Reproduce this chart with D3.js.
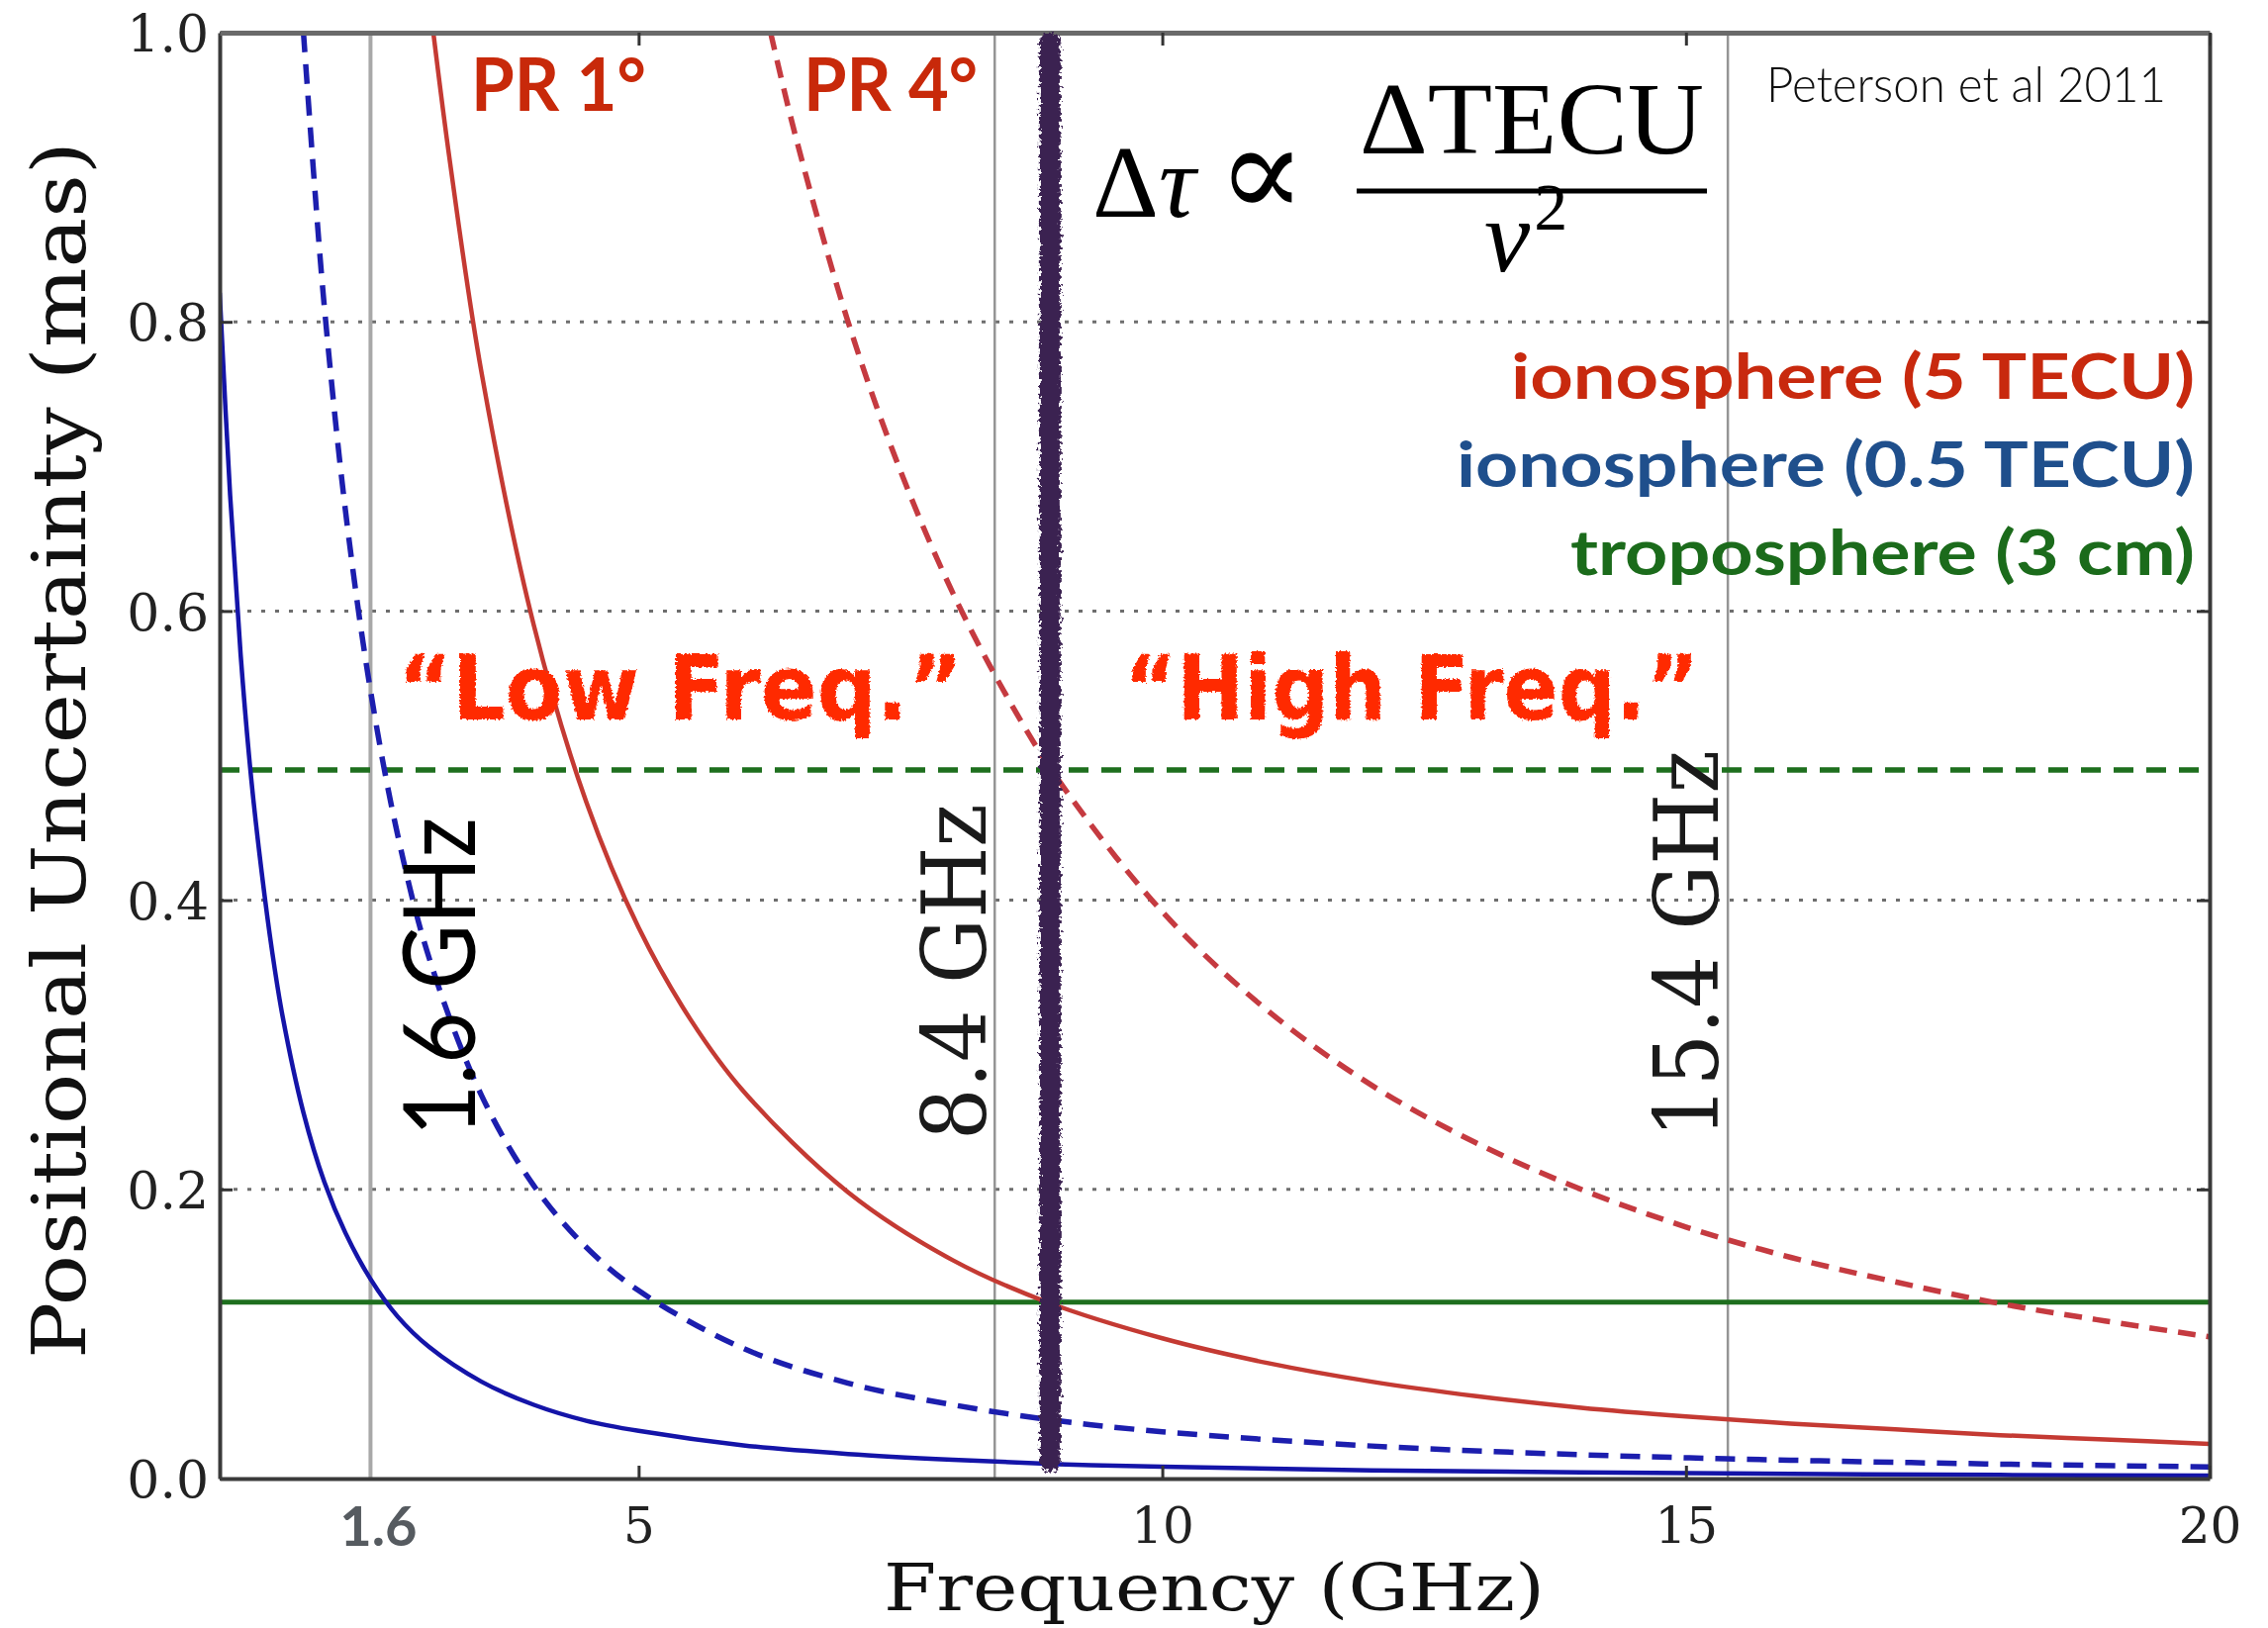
<!DOCTYPE html>
<html><head><meta charset="utf-8">
<script src="https://cdn.jsdelivr.net/npm/d3@7"></script>
<style>html,body{margin:0;padding:0;background:#fff;}svg{display:block;}</style>
</head><body>
<script>
// ---------------- data ----------------
const yTicks = [0.0, 0.2, 0.4, 0.6, 0.8, 1.0];
const xTicks = [5, 10, 15, 20];
const gridY = [0.2, 0.4, 0.6, 0.8];

// ionosphere 0.5 TECU, PR 1 deg (blue solid)
const blueSolidF = [1.0, 1.1, 1.2, 1.3, 1.4, 1.5, 1.6, 1.8, 2.0, 2.2, 2.44, 2.7, 3.0, 3.5, 4.0, 4.5, 5, 6, 7, 8, 9, 10, 12, 14, 16, 18, 20];
const blueSolidV = [0.82, 0.68, 0.57, 0.485, 0.42, 0.365, 0.32, 0.253, 0.205, 0.17, 0.138, 0.112, 0.091, 0.067, 0.051, 0.040, 0.033, 0.023, 0.017, 0.013, 0.010, 0.0082, 0.0057, 0.0042, 0.0032, 0.0025, 0.002];
// ionosphere 0.5 TECU, PR 4 deg (blue dashed)
const blueDashF = [1.8, 1.9, 2.0, 2.2, 2.44, 2.7, 3.0, 3.5, 4, 4.5, 5, 6, 7, 8, 9, 10, 12, 14, 16, 18, 20];
const blueDashV = [1.0, 0.9, 0.81, 0.67, 0.545, 0.445, 0.36, 0.265, 0.2025, 0.16, 0.13, 0.09, 0.066, 0.051, 0.040, 0.0324, 0.0225, 0.0165, 0.0127, 0.010, 0.0081];
// ionosphere 5 TECU, PR 1 deg (red solid)
const redSolidF = [3.04, 3.2, 3.5, 4.0, 4.5, 5, 5.5, 6, 7, 8, 8.9, 10, 11, 12, 13, 14, 15, 16, 17, 18, 19, 20];
const redSolidV = [1.0, 0.91, 0.765, 0.59, 0.468, 0.381, 0.317, 0.268, 0.198, 0.151, 0.122, 0.097, 0.080, 0.067, 0.057, 0.049, 0.043, 0.038, 0.034, 0.030, 0.027, 0.024];
// ionosphere 5 TECU, PR 4 deg (red dashed)
const redDashF = [6.26, 6.5, 7, 7.5, 8, 8.5, 9, 10, 11, 12, 13, 14, 15, 16, 17, 18, 19, 20];
const redDashV = [1.0, 0.928, 0.80, 0.697, 0.6125, 0.543, 0.484, 0.392, 0.324, 0.272, 0.232, 0.200, 0.174, 0.153, 0.136, 0.121, 0.109, 0.098];
// troposphere 3 cm (green) for PR 1 deg and PR 4 deg
const tropoSolid = 0.122;
const tropoDash = 0.49;
// observing-band reference lines
const bandLabels = ["1.6 GHz", "8.4 GHz", "15.4 GHz"];
const bandFreqs = [2.44, 8.4, 15.4];
// low / high frequency divider
const dividerFreq = 8.93;
const dividerRange = [0.012, 0.993];
const legendLabels = ["ionosphere (5 TECU)", "ionosphere (0.5 TECU)", "troposphere (3 cm)"];

// ---------------- layout ----------------
const W = 2292, H = 1645;
const L = 222, R = 2233, T = 33, B = 1494;
const svg = d3.select("body").append("svg").attr("width", W).attr("height", H);
svg.append("rect").attr("width", W).attr("height", H).attr("fill", "#fff");

const defs = svg.append("defs");
defs.append("clipPath").attr("id", "plot").append("rect")
  .attr("x", L).attr("y", T).attr("width", R - L).attr("height", B - T);
const rough = defs.append("filter").attr("id", "rough").attr("filterUnits", "userSpaceOnUse")
  .attr("x", 0).attr("y", 0).attr("width", W).attr("height", H);
rough.append("feTurbulence").attr("type", "fractalNoise").attr("baseFrequency", "0.3").attr("numOctaves", 2).attr("seed", 3).attr("result", "n");
rough.append("feDisplacementMap").attr("in", "SourceGraphic").attr("in2", "n").attr("scale", 10).attr("xChannelSelector", "R").attr("yChannelSelector", "G");
const rough2 = defs.append("filter").attr("id", "rough2").attr("filterUnits", "userSpaceOnUse")
  .attr("x", 0).attr("y", 0).attr("width", W).attr("height", H);
rough2.append("feTurbulence").attr("type", "fractalNoise").attr("baseFrequency", "0.5").attr("numOctaves", 2).attr("seed", 7).attr("result", "n");
rough2.append("feDisplacementMap").attr("in", "SourceGraphic").attr("in2", "n").attr("scale", 5).attr("xChannelSelector", "R").attr("yChannelSelector", "G");

const x = d3.scaleLinear().domain([1, 20]).range([L, R]);
const y = d3.scaleLinear().domain([0, 1]).range([B, T]);

const plot = svg.append("g").attr("clip-path", "url(#plot)");

// dotted grid
plot.selectAll("line.grid").data(gridY).join("line").attr("class", "grid")
  .attr("x1", L).attr("x2", R).attr("y1", d => y(d)).attr("y2", d => y(d))
  .attr("stroke", "#6e6e6e").attr("stroke-width", 3).attr("stroke-dasharray", "4,10");

// band reference lines
plot.selectAll("line.band").data(bandFreqs).join("line").attr("class", "band")
  .attr("x1", d => x(d)).attr("x2", d => x(d)).attr("y1", T).attr("y2", B)
  .attr("stroke", (d, i) => i === 0 ? "#a8a8a8" : "#959595")
  .attr("stroke-width", (d, i) => i === 0 ? 4 : 2.5);

// troposphere lines
plot.append("line").attr("x1", L).attr("x2", R).attr("y1", y(tropoSolid)).attr("y2", y(tropoSolid))
  .attr("stroke", "#1e6f1e").attr("stroke-width", 5);
plot.append("line").attr("x1", L).attr("x2", R).attr("y1", y(tropoDash)).attr("y2", y(tropoDash))
  .attr("stroke", "#1e6f1e").attr("stroke-width", 5.5).attr("stroke-dasharray", "20,13");

const line = d3.line().x(d => x(d[0])).y(d => y(d[1])).curve(d3.curveCatmullRom.alpha(0.5));
const series = [
  {f: blueSolidF, v: blueSolidV, c: "#1414a8", dash: null, w: 4.5},
  {f: blueDashF, v: blueDashV, c: "#1c1eae", dash: "20,12", w: 5.5},
  {f: redSolidF, v: redSolidV, c: "#c43a33", dash: null, w: 4.5},
  {f: redDashF, v: redDashV, c: "#c53a40", dash: "18,11", w: 5.5}
];
series.forEach(s => {
  plot.append("path").datum(d3.zip(s.f, s.v)).attr("d", line)
    .attr("fill", "none").attr("stroke", s.c).attr("stroke-width", s.w)
    .attr("stroke-dasharray", s.dash);
});

// axes (inward ticks)
const axisStyle = g => {
  g.select(".domain").attr("stroke", "#3a3a3a").attr("stroke-width", 4);
  g.selectAll(".tick line").attr("stroke", "#333").attr("stroke-width", 3);
};
svg.append("g").attr("transform", `translate(${L},0)`)
  .call(d3.axisLeft(y).tickValues(yTicks).tickFormat(d3.format(".1f")).tickSizeInner(-13).tickSizeOuter(0).tickPadding(11))
  .call(axisStyle)
  .call(g => g.selectAll("text").attr("font-family", "DejaVu Serif").attr("font-size", 52).attr("fill", "#222").attr("dy", "0.36em"));
svg.append("g").attr("transform", `translate(${R},0)`)
  .call(d3.axisRight(y).tickValues(yTicks).tickFormat("").tickSizeInner(-13).tickSizeOuter(0))
  .call(axisStyle);
svg.append("g").attr("transform", `translate(0,${B})`)
  .call(d3.axisBottom(x).tickValues(xTicks).tickFormat(d3.format("d")).tickSizeInner(-13).tickSizeOuter(0).tickPadding(29))
  .call(axisStyle)
  .call(g => g.selectAll("text").attr("font-family", "DejaVu Serif").attr("font-size", 50).attr("fill", "#222").attr("dy", "0.71em"));
svg.append("g").attr("transform", `translate(0,${T})`)
  .call(d3.axisTop(x).tickValues(xTicks).tickFormat("").tickSizeInner(-13).tickSizeOuter(0))
  .call(axisStyle)
  .call(g => g.select(".domain").attr("stroke", "#6a6a6a").attr("stroke-width", 5));

// divider (hand-drawn purple)
svg.append("line").attr("x1", x(dividerFreq)).attr("x2", x(dividerFreq))
  .attr("y1", y(dividerRange[1])).attr("y2", y(dividerRange[0]))
  .attr("stroke", "#3b2151").attr("stroke-width", 21).attr("stroke-linecap", "round")
  .attr("filter", "url(#rough)");

// axis titles
svg.append("text").attr("x", 1227).attr("y", 1627).attr("text-anchor", "middle")
  .attr("font-family", "DejaVu Serif").attr("font-size", 66).attr("fill", "#111")
  .attr("textLength", 668).attr("lengthAdjust", "spacingAndGlyphs")
  .text("Frequency (GHz)");
svg.append("text").attr("transform", "translate(86,758) rotate(-90)").attr("text-anchor", "middle")
  .attr("font-family", "DejaVu Serif").attr("font-size", 74).attr("fill", "#111")
  .attr("textLength", 1230).attr("lengthAdjust", "spacingAndGlyphs")
  .text("Positional Uncertainty (mas)");

// custom "1.6" tick label
svg.append("text").attr("x", x(bandFreqs[0]) + 8).attr("y", 1562).attr("text-anchor", "middle")
  .attr("font-family", "Lato").attr("font-weight", 700).attr("font-size", 56).attr("fill", "#565b60")
  .text("1.6");

// band labels (rotated)
const bandText = [
  {bx: 480, cy: 987, len: 322, fam: "Lato", size: 100, fill: "#000", w: 400},
  {bx: 996, cy: 982, len: 340, fam: "DejaVu Serif", size: 90, fill: "#1a1a1a", w: 400},
  {bx: 1736, cy: 954, len: 392, fam: "DejaVu Serif", size: 90, fill: "#1a1a1a", w: 400}
];
bandText.forEach((b, i) => {
  svg.append("text").attr("transform", `translate(${b.bx},${b.cy}) rotate(-90)`)
    .attr("text-anchor", "middle").attr("font-family", b.fam).attr("font-size", b.size)
    .attr("font-weight", b.w).attr("fill", b.fill)
    .attr("textLength", b.len).attr("lengthAdjust", "spacingAndGlyphs")
    .text(bandLabels[i]);
});

// PR labels
svg.append("text").attr("x", 476).attr("y", 112).attr("font-family", "Lato").attr("font-weight", 700)
  .attr("font-size", 74).attr("fill", "#c8290a").attr("textLength", 177).attr("lengthAdjust", "spacingAndGlyphs").text("PR 1°");
svg.append("text").attr("x", 812).attr("y", 112).attr("font-family", "Lato").attr("font-weight", 700)
  .attr("font-size", 74).attr("fill", "#c8290a").attr("textLength", 176).attr("lengthAdjust", "spacingAndGlyphs").text("PR 4°");

// Low / High freq hand-written labels
svg.append("text").attr("x", 402).attr("y", 727).attr("font-family", "DejaVu Sans").attr("font-weight", 700)
  .attr("font-size", 90).attr("fill", "#ff2a00").attr("textLength", 571).attr("lengthAdjust", "spacingAndGlyphs")
  .attr("filter", "url(#rough2)").text("\u201CLow Freq.\u201D");
svg.append("text").attr("x", 1136).attr("y", 727).attr("font-family", "DejaVu Sans").attr("font-weight", 700)
  .attr("font-size", 90).attr("fill", "#ff2a00").attr("textLength", 581).attr("lengthAdjust", "spacingAndGlyphs")
  .attr("filter", "url(#rough2)").text("\u201CHigh Freq.\u201D");

// formula
const ff = "Liberation Serif";
const f1 = svg.append("text").attr("x", 1104).attr("y", 219).attr("font-family", ff).attr("font-size", 104).attr("fill", "#000");
f1.append("tspan").text("\u0394");
f1.append("tspan").attr("font-style", "italic").text("\u03C4");
f1.append("tspan").attr("dx", 22).attr("font-family", "DejaVu Serif").attr("font-size", 132).attr("font-weight", 300).text("\u221D");
svg.append("text").attr("x", 1374).attr("y", 155).attr("font-family", ff).attr("font-size", 104).attr("fill", "#000")
  .attr("textLength", 348).attr("lengthAdjust", "spacingAndGlyphs").text("\u0394TECU");
svg.append("line").attr("x1", 1371).attr("x2", 1725).attr("y1", 193).attr("y2", 193).attr("stroke", "#000").attr("stroke-width", 5);
const f2 = svg.append("text").attr("x", 1500).attr("y", 274).attr("font-family", ff).attr("font-size", 104).attr("fill", "#000");
f2.append("tspan").attr("font-style", "italic").text("\u03BD");
f2.append("tspan").attr("font-size", 68).attr("dx", 4).attr("dy", -42).text("2");

// citation
svg.append("text").attr("x", 1785).attr("y", 103).attr("font-family", "Lato").attr("font-weight", 300)
  .attr("font-size", 50).attr("fill", "#111").attr("textLength", 404).attr("lengthAdjust", "spacingAndGlyphs")
  .text("Peterson et al 2011");

// legend text
const legend = [
  {y: 403, len: 691, c: "#c8290e"},
  {y: 492, len: 746, c: "#1f4f8c"},
  {y: 581, len: 631, c: "#1b6b1b"}
];
legend.forEach((d, i) => {
  svg.append("text").attr("x", 2218).attr("y", d.y).attr("text-anchor", "end")
    .attr("font-family", "Lato").attr("font-weight", 700).attr("font-size", 64).attr("fill", d.c)
    .attr("textLength", d.len).attr("lengthAdjust", "spacingAndGlyphs").text(legendLabels[i]);
});
</script>
</body></html>
